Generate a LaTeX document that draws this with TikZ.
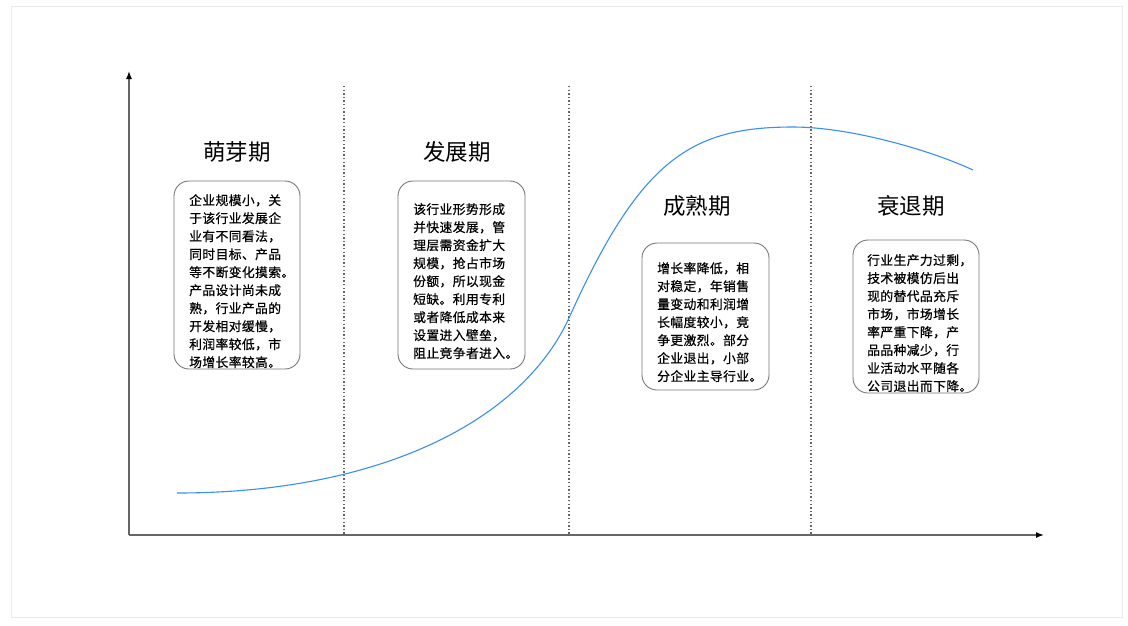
\documentclass[tikz,border=0pt]{standalone}
\usepackage{fontspec}
\newfontfamily\cjk{Noto Sans CJK SC}
\newfontfamily\cjkbody[FakeBold=0.6,LetterSpace=3]{Noto Sans CJK SC}
\usetikzlibrary{arrows.meta}
\definecolor{curveblue}{HTML}{3A8EF0}
\definecolor{axisgray}{HTML}{666666}
\definecolor{boxgray}{HTML}{777777}
\definecolor{framegray}{HTML}{EBEBEB}
\begin{document}
\begin{tikzpicture}[x=1pt,y=-1pt,
  stagetitle/.style={font=\cjk\fontsize{22.5}{26}\selectfont, anchor=center},
  descbox/.style={boxgray, line width=0.9pt, rounded corners=15pt},
  desctext/.style={anchor=north west, align=left, font=\cjkbody\fontsize{12.8}{18}\selectfont, inner sep=0pt},
  divider/.style={axisgray, line width=1.4pt, dash pattern=on 1.4pt off 2.2pt},
  axisline/.style={axisgray, line width=1.4pt, -{Latex[length=8pt,width=6pt,black]}}]
\useasboundingbox (0,0) rectangle (1128,625);
\draw[framegray, line width=0.8pt] (11,6) rectangle (1122,617);
% axes
\coordinate (O) at (129,535);
\coordinate (Ytop) at (129,71);
\coordinate (Xend) at (1044,535);
\draw[axisline] (O) -- (Ytop);
\draw[axisline] (O) -- (Xend);
% dividers
\foreach \x/\n in {344/a,569/b,811/c}{
  \coordinate (d\n t) at (\x,86);
  \coordinate (d\n b) at (\x,535);
  \draw[divider] (d\n t) -- (d\n b);
}
% curve
\coordinate (c0) at (177,493);
\coordinate (c1) at (569,318);
\coordinate (c2) at (793,127);
\coordinate (c3) at (973,170);
\draw[curveblue, line width=1.1pt] (c0) .. controls (380,493) and (522,421) .. (c1)
  .. controls (640,160) and (690,127) .. (c2)
  .. controls (850,127) and (930,150) .. (c3);
% titles
\node[stagetitle] (t1) at (237,152) {萌芽期};
\node[stagetitle] (t2) at (457,152) {发展期};
\node[stagetitle] (t3) at (697,206) {成熟期};
\node[stagetitle] (t4) at (911,206) {衰退期};
% boxes
\draw[descbox] (174,181) rectangle (300,369);
\node[desctext] (b1) at (189,194) {企业规模小，关\\于该行业发展企\\业有不同看法，\\同时目标、产品\\等不断变化摸索。\\产品设计尚未成\\熟，行业产品的\\开发相对缓慢，\\利润率较低，市\\场增长率较高。};
\draw[descbox] (398,181) rectangle (525,369);
\node[desctext] (b2) at (413,203) {该行业形势形成\\并快速发展，管\\理层需资金扩大\\规模，抢占市场\\份额，所以现金\\短缺。利用专利\\或者降低成本来\\设置进入壁垒，\\阻止竞争者进入。};
\draw[descbox] (642,243) rectangle (769,390);
\node[desctext] (b3) at (657,262) {增长率降低，相\\对稳定，年销售\\量变动和利润增\\长幅度较小，竞\\争更激烈。部分\\企业退出，小部\\分企业主导行业。};
\draw[descbox] (853,240) rectangle (979,393);
\node[desctext] (b4) at (867,254) {行业生产力过剩，\\技术被模仿后出\\现的替代品充斥\\市场，市场增长\\率严重下降，产\\品品种减少，行\\业活动水平随各\\公司退出而下降。};
\end{tikzpicture}
\end{document}
